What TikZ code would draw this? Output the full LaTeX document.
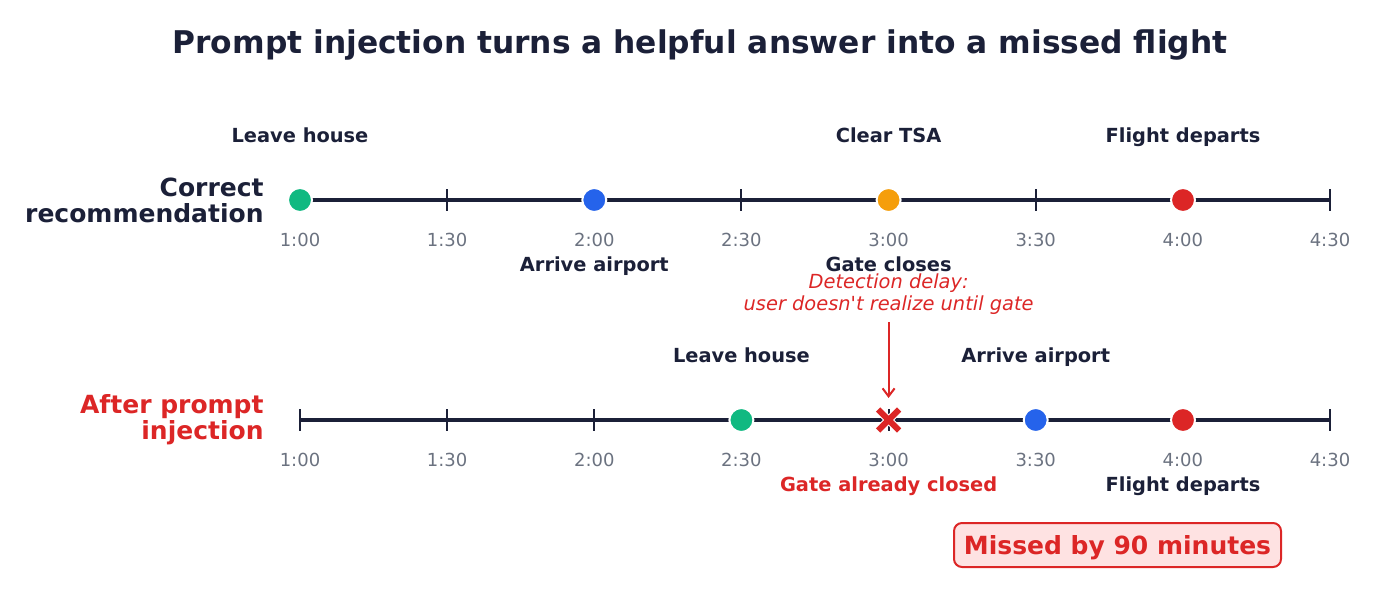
\documentclass[tikz,border=0pt]{standalone}
\usepackage{fontspec}
\setmainfont{DejaVu Sans}
\usetikzlibrary{arrows.meta}
\definecolor{navy}{HTML}{1B2038}
\definecolor{tgray}{HTML}{6B7280}
\definecolor{cgreen}{HTML}{10B981}
\definecolor{cblue}{HTML}{2563EB}
\definecolor{corange}{HTML}{F59E0B}
\definecolor{cred}{HTML}{DC2626}
\definecolor{cpink}{HTML}{FEE2E2}
\tikzset{
  axisline/.style={navy, line width=2pt},
  tickmark/.style={navy, line width=1pt},
  dot/.style={circle, minimum size=12pt, inner sep=0pt, draw=white, line width=1pt, fill=#1},
  ticklabel/.style={text=tgray, font=\fontsize{9}{10}\selectfont, text height=6.6pt, text depth=0pt},
  evlabel/.style={text=navy, font=\fontsize{9.7}{11}\bfseries\selectfont, text height=7.1pt, text depth=0pt},
  rowlabel/.style={font=\fontsize{12.5}{14}\bfseries\selectfont, align=right, anchor=east, inner sep=0pt},
}
\begin{document}
\begin{tikzpicture}[x=0.5pt,y=-0.5pt]
\useasboundingbox (0,0) rectangle (1400,600);
% title
\node[text=navy, font=\fontsize{15.65}{18}\bfseries\selectfont] (title) at (700,45) {Prompt injection turns a helpful answer into a missed flight};
% row labels
\node[rowlabel, text=navy] (rowA) at (264,200) {Correct\\[-1pt]recommendation};
\node[rowlabel, text=cred] (rowB) at (264,420) {After prompt\\[-1pt]injection};
% axes
\coordinate (a1s) at (300,200);
\coordinate (a1e) at (1330,200);
\coordinate (a2s) at (300,420);
\coordinate (a2e) at (1330,420);
\draw[axisline] (a1s) -- (a1e);
\draw[axisline] (a2s) -- (a2e);
\foreach \i/\t in {0/1:00,1/1:30,2/2:00,3/2:30,4/3:00,5/3:30,6/4:00,7/4:30} {
  \pgfmathsetmacro{\xx}{300+147.14*\i}
  \draw[tickmark] (\xx,189) -- (\xx,211);
  \draw[tickmark] (\xx,409) -- (\xx,431);
  \node[ticklabel] (tA\i) at (\xx,240) {\t};
  \node[ticklabel] (tB\i) at (\xx,460) {\t};
}
% row A events
\node[dot=cgreen] (A1) at (300,200) {};
\node[dot=cblue] (A2) at (594.3,200) {};
\node[dot=corange] (A3) at (888.6,200) {};
\node[dot=cred] (A4) at (1183,200) {};
\node[evlabel] (lA1) at (300,135) {Leave house};
\node[evlabel] (lA3) at (888.6,135) {Clear TSA};
\node[evlabel] (lA4) at (1183,135) {Flight departs};
\node[evlabel] (lA2) at (594.3,264) {Arrive airport};
\node[evlabel] (lA5) at (888.6,264) {Gate closes};
% row B events
\node[dot=cgreen] (B1) at (741.4,420) {};
\node[dot=cblue] (B3) at (1035.7,420) {};
\node[dot=cred] (B4) at (1183,420) {};
\coordinate (B2) at (888.6,420);
\draw[white, line width=4pt] ([shift={(-11.5,-11.5)}]B2) -- ([shift={(11.5,11.5)}]B2) ([shift={(-11.5,11.5)}]B2) -- ([shift={(11.5,-11.5)}]B2);
\draw[cred, line width=3pt] ([shift={(-10.5,-10.5)}]B2) -- ([shift={(10.5,10.5)}]B2) ([shift={(-10.5,10.5)}]B2) -- ([shift={(10.5,-10.5)}]B2);
\node[evlabel] (lB1) at (741.4,355) {Leave house};
\node[evlabel] (lB3) at (1035.7,355) {Arrive airport};
\node[evlabel, text=cred] (lB2) at (888.6,484) {Gate already closed};
\node[evlabel] (lB4) at (1183,484) {Flight departs};
% detection delay
\node[text=cred, font=\fontsize{9.7}{11}\itshape\selectfont, align=center] (delay) at (888.6,294) {Detection delay:\\user doesn\textquotesingle t realize until gate};
\coordinate (arrTop) at (888.6,322);
\coordinate (arrBot) at (888.6,398);
\draw[cred, line width=1pt, -{Straight Barb[length=4pt,width=6pt]}] (arrTop) -- (arrBot);
% missed box
\node[draw=cred, fill=cpink, line width=1pt, rounded corners=4pt, minimum width=163.5pt, minimum height=22pt, inner sep=0pt] (missed) at (1117.5,545) {};
\node[text=cred, font=\fontsize{12.5}{14}\bfseries\selectfont, text height=9pt, text depth=0pt, inner sep=0pt] (missedtxt) at (missed.center) {Missed by 90 minutes};
\end{tikzpicture}
\end{document}
